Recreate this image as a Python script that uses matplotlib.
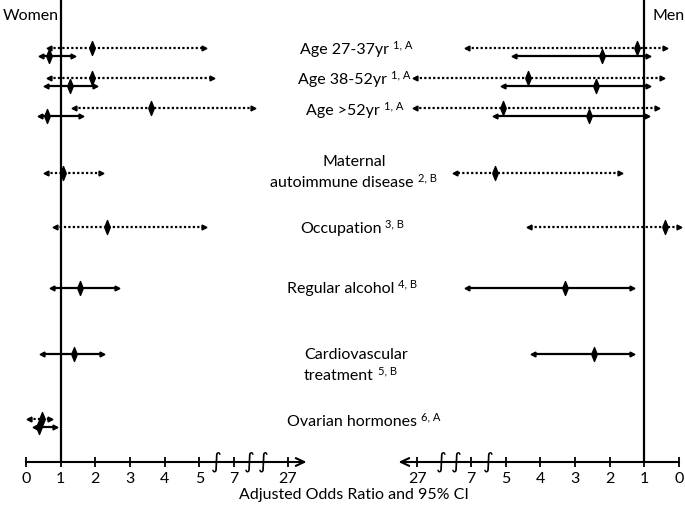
import numpy as np
import matplotlib.pyplot as plt
from matplotlib.transforms import blended_transform_factory

plt.rcParams['font.family'] = ['Lato', 'DejaVu Sans']

# Rows (top to bottom)
row_labels = [['Age 27-37yr'], ['Age 38-52yr'], ['Age >52yr'],
              ['Maternal', 'autoimmune disease'], ['Occupation'],
              ['Regular alcohol'], ['Cardiovascular', 'treatment'],
              ['Ovarian hormones']]
row_sups = ['1, A', '1, A', '1, A', '2, B', '3, B', '4, B', '5, B', '6, A']

nan = np.nan
# Women - dotted estimates
women_dot_or = [1.89, 1.91, 3.60, 1.08, 2.35, nan, nan, 0.45]
women_dot_lo = [0.67, 0.67, 1.38, 0.58, 0.84, nan, nan, 0.10]
women_dot_hi = [5.24, 5.71, 13.9, 2.15, 5.27, nan, nan, 0.70]
# Women - solid estimates
women_sol_or = [0.67, 1.27, 0.60, nan, nan, 1.56, 1.38, 0.37]
women_sol_lo = [0.42, 0.57, 0.40, nan, nan, 0.76, 0.47, 0.25]
women_sol_hi = [1.35, 1.99, 1.59, nan, nan, 2.63, 2.20, 0.85]
# Men - dotted estimates
men_dot_or = [1.20, 4.35, 5.14, 5.62, 0.40, nan, nan, nan]
men_dot_lo = [0.40, 0.50, 0.64, 1.70, 0.00, nan, nan, nan]
men_dot_hi = [8.30, 27.8, 27.8, 12.9, 4.32, nan, nan, nan]
# Men - solid estimates
men_sol_or = [2.21, 2.39, 2.60, nan, nan, 3.29, 2.44, nan]
men_sol_lo = [0.89, 0.89, 0.91, nan, nan, 1.36, 1.35, nan]
men_sol_hi = [4.76, 5.17, 5.62, nan, nan, 8.30, 4.20, nan]

tick_values = [0, 1, 2, 3, 4, 5, 7, 27]
break_values = [6, 12.5, 18]

# ---- layout (pixels, from top-left of a 685x508 canvas) ----
W, H = 685, 508
AXIS_Y = 462
row_y = [52, 82, 112, 173, 227, 288, 354, 423]
label_pos = [[(300, 50)], [(298, 80)], [(306, 111)],
             [(322, 162), (270, 183)], [(300, 229)], [(287, 289)],
             [(304, 355), (304, 376)], [(287, 422)]]
PX_PER_UNIT = 34.67

# broken axis: 0-5 linear, 5-7 squeezed into one unit, 7-27 into ~1.55 units
OR_KNOTS = [-10, 0, 5, 7, 27, 1000]
POS_KNOTS = [-10, 0, 5, 6, 7.55, 7.55 + 973 * 0.0775]

# slim diamond marker
DIAMOND = [(-0.2, 0), (0, 0.5), (0.2, 0), (0, -0.5), (-0.2, 0)]


def forward(x):
    return np.interp(x, OR_KNOTS, POS_KNOTS)


def inverse(p):
    return np.interp(p, POS_KNOTS, OR_KNOTS)


def draw_ci(ax, y, est, lo, hi, dotted, flip):
    if np.isnan(est):
        return
    ls = (0, (1, 1)) if dotted else '-'
    ax.plot([lo, hi], [y, y], color='black', lw=1.6, ls=ls,
            solid_capstyle='butt', dash_capstyle='butt', clip_on=False)
    lo_m, hi_m = ('>', '<') if flip else ('<', '>')
    ax.plot([lo], [y], marker=lo_m, ms=3.5, color='black', clip_on=False)
    ax.plot([hi], [y], marker=hi_m, ms=3.5, color='black', clip_on=False)
    ax.plot([est], [y], marker=DIAMOND, ms=10, color='black', clip_on=False)


def setup_panel(ax, flip):
    ax.set_xscale('function', functions=(forward, inverse))
    ax.set_ylim(AXIS_Y, 0)
    for s in ['top', 'left', 'right']:
        ax.spines[s].set_visible(False)
    ax.spines['bottom'].set_bounds(0, 27)
    ax.spines['bottom'].set_linewidth(1.5)
    ax.set_yticks([])
    ax.set_xticks(tick_values)
    ax.set_xticklabels([str(v) for v in tick_values])
    ax.tick_params(axis='x', direction='inout', length=7, width=1.3,
                   pad=4, labelsize=11.5)
    ax.axvline(1, color='black', lw=1.6)
    ax.annotate('', xy=(34, 0), xytext=(26.5, 0),
                xycoords=('data', 'axes fraction'),
                arrowprops=dict(arrowstyle='->,head_length=0.6,head_width=0.28',
                                lw=1.5, color='black', shrinkA=0, shrinkB=0,
                                mutation_scale=10),
                annotation_clip=False)
    trans = blended_transform_factory(ax.transData, ax.transAxes)
    for b in break_values:
        ax.text(b, 0, '\u222b', transform=trans, ha='center', va='center',
                fontsize=15, family='DejaVu Sans')


fig = plt.figure(figsize=(W / 100, H / 100), dpi=100)
bottom = (H - AXIS_Y) / H
ax_w = fig.add_axes([0, bottom, 342 / W, 1 - bottom])
ax_m = fig.add_axes([342 / W, bottom, 1 - 342 / W, 1 - bottom])
setup_panel(ax_w, flip=False)
setup_panel(ax_m, flip=True)

ax_w.set_xlim(inverse((0 - 26) / PX_PER_UNIT), inverse((342 - 26) / PX_PER_UNIT))
ax_m.set_xlim(inverse((679 - 342) / PX_PER_UNIT), inverse((679 - 685) / PX_PER_UNIT))

panels = [
    (ax_w, False, women_dot_or, women_dot_lo, women_dot_hi,
     women_sol_or, women_sol_lo, women_sol_hi),
    (ax_m, True, men_dot_or, men_dot_lo, men_dot_hi,
     men_sol_or, men_sol_lo, men_sol_hi),
]
for ax, flip, d_or, d_lo, d_hi, s_or, s_lo, s_hi in panels:
    for i, y in enumerate(row_y):
        both = not np.isnan(d_or[i]) and not np.isnan(s_or[i])
        off = 4 if both else 0
        draw_ci(ax, y - off, d_or[i], d_lo[i], d_hi[i], True, flip)
        draw_ci(ax, y + off, s_or[i], s_lo[i], s_hi[i], False, flip)

# Row labels with superscripts
renderer = fig.canvas.get_renderer()
for lines, sup, pos in zip(row_labels, row_sups, label_pos):
    t = None
    for line, (x, y) in zip(lines, pos):
        t = fig.text(x / W, 1 - y / H, line, ha='left', va='center', fontsize=11.5)
    bb = t.get_window_extent(renderer)
    y_last = pos[-1][1]
    fig.text((bb.x1 + 4) / W, 1 - (y_last - 5) / H, sup, ha='left',
             va='center', fontsize=8)

fig.text(3 / W, 1 - 16 / H, 'Women', ha='left', va='center', fontsize=11.5)
fig.text(652 / W, 1 - 16 / H, 'Men', ha='left', va='center', fontsize=11.5)
fig.text(354 / W, 1 - 495 / H, 'Adjusted Odds Ratio and 95% CI',
         ha='center', va='center', fontsize=11.5)

fig.savefig('out.png', dpi=100)
